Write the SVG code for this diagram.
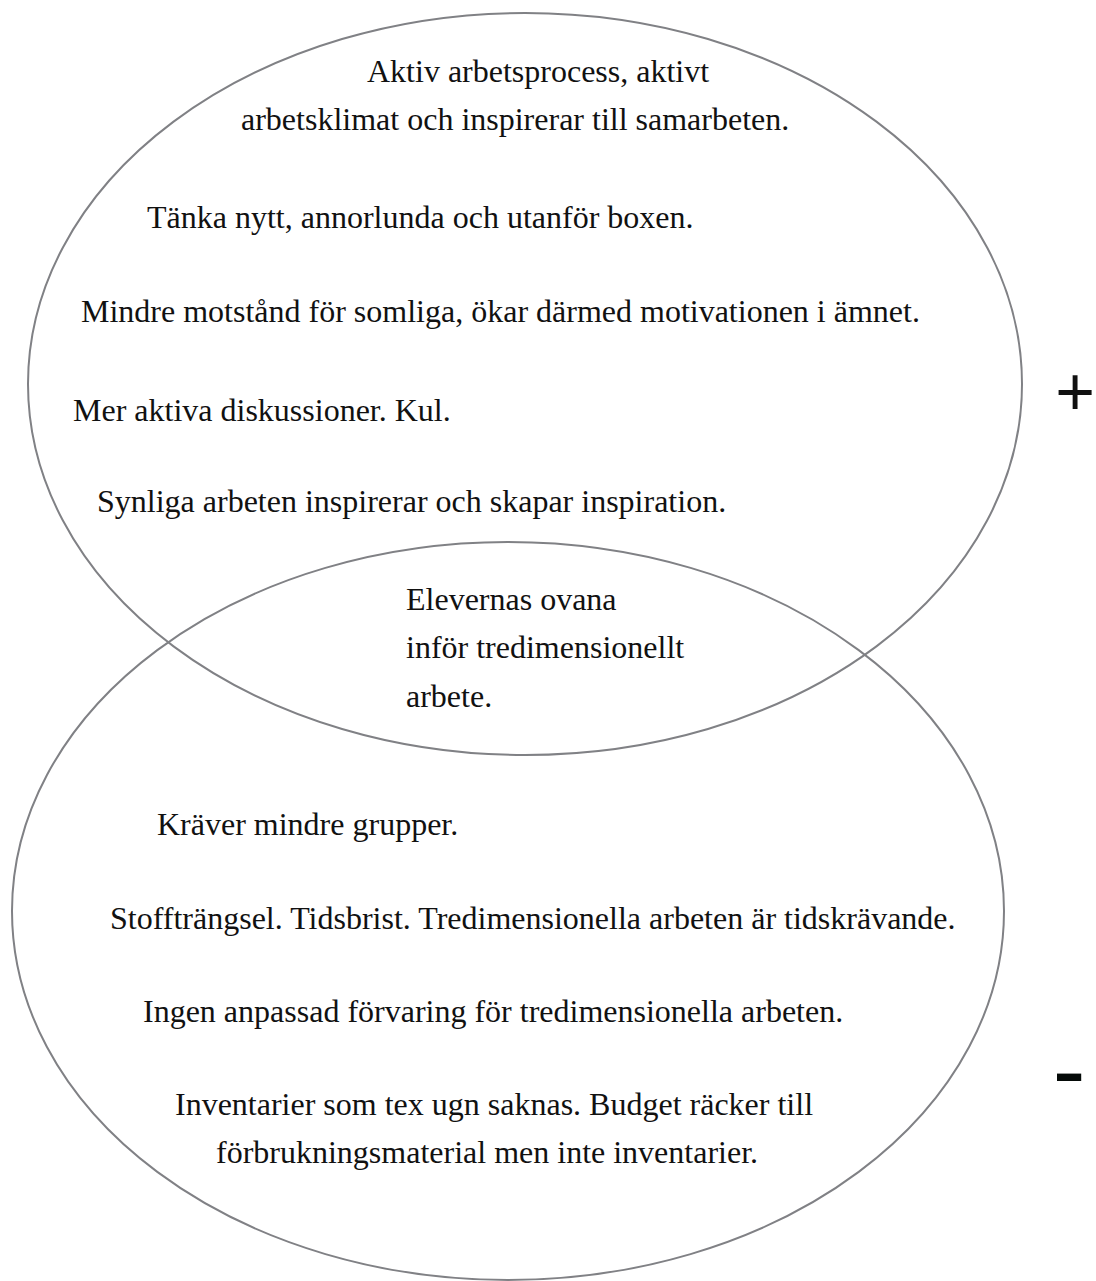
<svg xmlns="http://www.w3.org/2000/svg" width="1096" height="1281" viewBox="0 0 1096 1281">
<style>
.ell{fill:none;stroke:#808185;stroke-width:2}
.t{font-family:"Liberation Serif","Times New Roman",serif;font-size:32px;fill:#111}
.s{font-family:"Liberation Sans",Arial,sans-serif;fill:#111}
</style>
<rect width="1096" height="1281" fill="#fff"/>
<g id="top-ellipse">
<ellipse class="ell" cx="525" cy="384" rx="497" ry="371"/>
</g>
<g id="bottom-ellipse">
<ellipse class="ell" cx="508" cy="911" rx="496" ry="369"/>
</g>
<g id="connectors"></g>
<g id="top-texts">
<text class="t" x="367" y="82">Aktiv arbetsprocess, aktivt</text>
<text class="t" x="241" y="130">arbetsklimat och inspirerar till samarbeten.</text>
<text class="t" x="147" y="228">Tänka nytt, annorlunda och utanför boxen.</text>
<text class="t" x="81" y="322">Mindre motstånd för somliga, ökar därmed motivationen i ämnet.</text>
<text class="t" x="73" y="421">Mer aktiva diskussioner. Kul.</text>
<text class="t" x="97" y="512">Synliga arbeten inspirerar och skapar inspiration.</text>
</g>
<g id="overlap-text">
<text class="t" x="406" y="610">Elevernas ovana</text>
<text class="t" x="406" y="658">inför tredimensionellt</text>
<text class="t" x="406" y="707">arbete.</text>
</g>
<g id="bottom-texts">
<text class="t" x="157" y="835">Kräver mindre grupper.</text>
<text class="t" x="110" y="929">Stoffträngsel. Tidsbrist. Tredimensionella arbeten är tidskrävande.</text>
<text class="t" x="143" y="1022">Ingen anpassad förvaring för tredimensionella arbeten.</text>
<text class="t" x="175" y="1115">Inventarier som tex ugn saknas. Budget räcker till</text>
<text class="t" x="216" y="1163">förbrukningsmaterial men inte inventarier.</text>
</g>
<g id="plus">
<text class="s" x="1075" y="415" font-size="68" text-anchor="middle">+</text>
</g>
<g id="minus">
<text x="1069" y="1103" font-size="92" text-anchor="middle" font-family="DejaVu Sans, sans-serif" fill="#050a08">-</text>
</g>
</svg>
